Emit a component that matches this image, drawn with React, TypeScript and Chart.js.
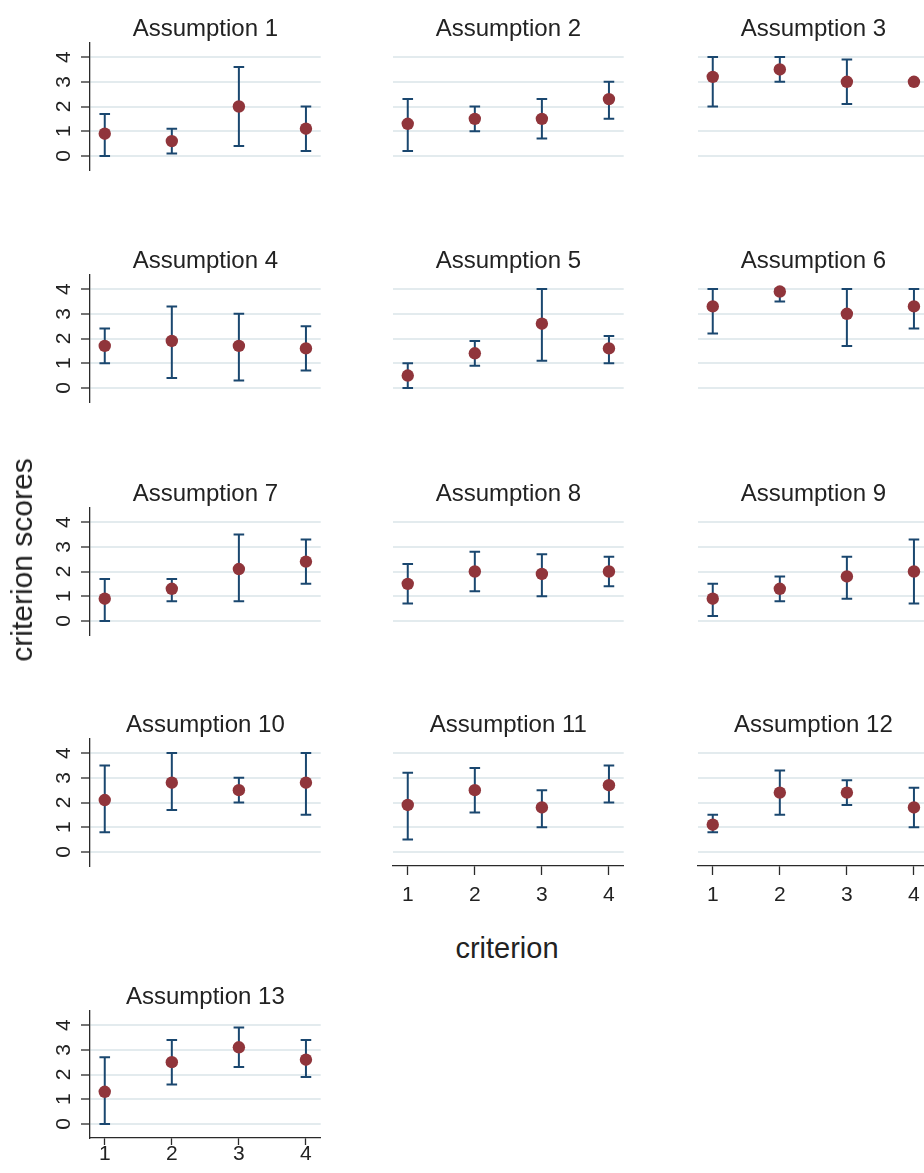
import React, { useEffect, useRef } from 'react';
import { Chart, registerables } from 'chart.js';

Chart.register(...registerables);

// ---------------- data ----------------
const CRITERIA = [1, 2, 3, 4];
const Y_TICKS = [0, 1, 2, 3, 4];
const TITLES = [
  'Assumption 1', 'Assumption 2', 'Assumption 3',
  'Assumption 4', 'Assumption 5', 'Assumption 6',
  'Assumption 7', 'Assumption 8', 'Assumption 9',
  'Assumption 10', 'Assumption 11', 'Assumption 12',
  'Assumption 13',
];
const MEANS = [
  [0.9, 0.6, 2.0, 1.1],
  [1.3, 1.5, 1.5, 2.3],
  [3.2, 3.5, 3.0, 3.0],
  [1.7, 1.9, 1.7, 1.6],
  [0.5, 1.4, 2.6, 1.6],
  [3.3, 3.9, 3.0, 3.3],
  [0.9, 1.3, 2.1, 2.4],
  [1.5, 2.0, 1.9, 2.0],
  [0.9, 1.3, 1.8, 2.0],
  [2.1, 2.8, 2.5, 2.8],
  [1.9, 2.5, 1.8, 2.7],
  [1.1, 2.4, 2.4, 1.8],
  [1.3, 2.5, 3.1, 2.6],
];
const LOWER = [
  [0.0, 0.1, 0.4, 0.2],
  [0.2, 1.0, 0.7, 1.5],
  [2.0, 3.0, 2.1, 3.0],
  [1.0, 0.4, 0.3, 0.7],
  [0.0, 0.9, 1.1, 1.0],
  [2.2, 3.5, 1.7, 2.4],
  [0.0, 0.8, 0.8, 1.5],
  [0.7, 1.2, 1.0, 1.4],
  [0.2, 0.8, 0.9, 0.7],
  [0.8, 1.7, 2.0, 1.5],
  [0.5, 1.6, 1.0, 2.0],
  [0.8, 1.5, 1.9, 1.0],
  [0.0, 1.6, 2.3, 1.9],
];
const UPPER = [
  [1.7, 1.1, 3.6, 2.0],
  [2.3, 2.0, 2.3, 3.0],
  [4.0, 4.0, 3.9, 3.0],
  [2.4, 3.3, 3.0, 2.5],
  [1.0, 1.9, 4.0, 2.1],
  [4.0, 4.0, 4.0, 4.0],
  [1.7, 1.7, 3.5, 3.3],
  [2.3, 2.8, 2.7, 2.6],
  [1.5, 1.8, 2.6, 3.3],
  [3.5, 4.0, 3.0, 4.0],
  [3.2, 3.4, 2.5, 3.5],
  [1.5, 3.3, 2.9, 2.6],
  [2.7, 3.4, 3.9, 3.4],
];
const Y_TITLE = 'criterion scores';
const X_TITLE = 'criterion';

// ---------------- styles ----------------
const FONT = "'Liberation Sans', Arial, Helvetica, sans-serif";
const TEXT = '#222222';
const AXIS = '#2a2a2a';
const GRID = '#e3ebee';
const BAR = '#1a476f';
const DOT = '#90353b';

const COL_LEFT = [90, 393, 698];
const ROW_TOP = [43, 275, 508, 739, 1011];
const Y_AXIS_W = 70;
const TOP_SPACE = 43;
const X_AXIS_H = 50;
const PLOT_H = 127;
const CANVAS_W = 308;
const RIGHT_PAD = 2;
const CANVAS_H = TOP_SPACE + PLOT_H + X_AXIS_H;
const TITLE_SIZE = 24;
const TITLE_LH = 1.1;
const TITLE_PAD_TOP = 16.3;

type PanelProps = {
  idx: number; row: number; col: number; showY: boolean; showX: boolean; compactX: boolean;
};

function Panel({ idx, row, col, showY, showX, compactX }: PanelProps) {
  const ref = useRef<HTMLCanvasElement | null>(null);
  useEffect(() => {
    if (!ref.current) return;
    const means = CRITERIA.map((c, i) => ({ x: c, y: MEANS[idx][i] }));
    const bars: any[] = [];
    CRITERIA.forEach((c, i) => {
      bars.push({ x: c, y: LOWER[idx][i] });
      bars.push({ x: c, y: UPPER[idx][i] });
      bars.push({ x: c, y: null });
    });
    const chart = new Chart(ref.current, {
      type: 'scatter',
      data: {
        datasets: [
          {
            data: means,
            showLine: false,
            pointRadius: 6.2,
            pointBorderWidth: 0,
            pointBackgroundColor: DOT,
            pointBorderColor: DOT,
          },
          {
            data: bars,
            showLine: true,
            spanGaps: false,
            borderColor: BAR,
            borderWidth: 2,
            pointStyle: 'line',
            pointRadius: 5.3,
            pointBorderWidth: 2,
            pointBorderColor: BAR,
            pointBackgroundColor: BAR,
          },
        ],
      },
      options: {
        animation: false,
        responsive: false,
        devicePixelRatio: 1,
        events: [],
        layout: { padding: { left: 0, top: 0, right: RIGHT_PAD, bottom: 0 } },
        plugins: {
          legend: { display: false },
          tooltip: { enabled: false },
          title: {
            display: true,
            text: TITLES[idx],
            fullSize: false,
            color: TEXT,
            font: { family: FONT, size: TITLE_SIZE, weight: 'normal', lineHeight: TITLE_LH },
            padding: {
              top: TITLE_PAD_TOP,
              bottom: TOP_SPACE - TITLE_PAD_TOP - TITLE_SIZE * TITLE_LH,
            },
          },
        },
        scales: {
          x: {
            type: 'linear',
            min: 0.78,
            max: 4.22,
            afterBuildTicks: (s: any) => { s.ticks = CRITERIA.map((v) => ({ value: v })); },
            afterFit: (s: any) => { s.height = X_AXIS_H; },
            grid: {
              display: showX,
              drawOnChartArea: false,
              drawTicks: true,
              tickLength: compactX ? 7 : 9,
              tickColor: AXIS,
              tickWidth: 1.3,
            },
            border: { display: showX, color: AXIS, width: 1.3 },
            ticks: {
              display: showX,
              padding: compactX ? -3 : 8,
              color: TEXT,
              font: { family: FONT, size: 21 },
              maxRotation: 0,
            },
          },
          y: {
            type: 'linear',
            min: -0.57,
            max: 4.57,
            afterBuildTicks: (s: any) => { s.ticks = Y_TICKS.map((v) => ({ value: v })); },
            afterFit: (s: any) => { s.width = Y_AXIS_W; },
            grid: {
              display: true,
              color: GRID,
              lineWidth: 2,
              drawTicks: showY,
              tickLength: 9,
              tickColor: AXIS,
              tickWidth: 1.3,
            },
            border: { display: showY, color: AXIS, width: 1.3 },
            ticks: {
              display: showY,
              minRotation: 90,
              maxRotation: 90,
              crossAlign: 'center',
              padding: 10.5,
              color: TEXT,
              font: { family: FONT, size: 21 },
            },
          },
        },
      } as any,
    });
    return () => chart.destroy();
  }, [idx, showX, showY, compactX]);

  return (
    <canvas
      ref={ref}
      width={CANVAS_W}
      height={CANVAS_H}
      style={{
        position: 'absolute',
        left: COL_LEFT[col] - Y_AXIS_W,
        top: ROW_TOP[row] - TOP_SPACE,
        width: CANVAS_W,
        height: CANVAS_H,
      }}
    />
  );
}

export default function App() {
  const panels = TITLES.map((_, i) => {
    const row = Math.floor(i / 3);
    const col = i % 3;
    const showY = col === 0;
    const showX = i >= 10;
    const compactX = row === 4;
    return (
      <Panel key={i} idx={i} row={row} col={col} showY={showY} showX={showX} compactX={compactX} />
    );
  });
  return (
    <div
      style={{
        position: 'absolute',
        left: 0,
        top: 0,
        width: 924,
        height: 1173,
        overflow: 'hidden',
        background: '#ffffff',
      }}
    >
      {panels}
      <div
        style={{
          position: 'absolute',
          left: 22,
          top: 560,
          transform: 'translate(-50%, -50%) rotate(-90deg)',
          whiteSpace: 'nowrap',
          fontFamily: FONT,
          fontSize: 30,
          color: TEXT,
          lineHeight: 1,
        }}
      >
        {Y_TITLE}
      </div>
      <div
        style={{
          position: 'absolute',
          left: 507,
          top: 948,
          transform: 'translate(-50%, -50%)',
          whiteSpace: 'nowrap',
          fontFamily: FONT,
          fontSize: 29,
          color: TEXT,
          lineHeight: 1,
        }}
      >
        {X_TITLE}
      </div>
    </div>
  );
}
